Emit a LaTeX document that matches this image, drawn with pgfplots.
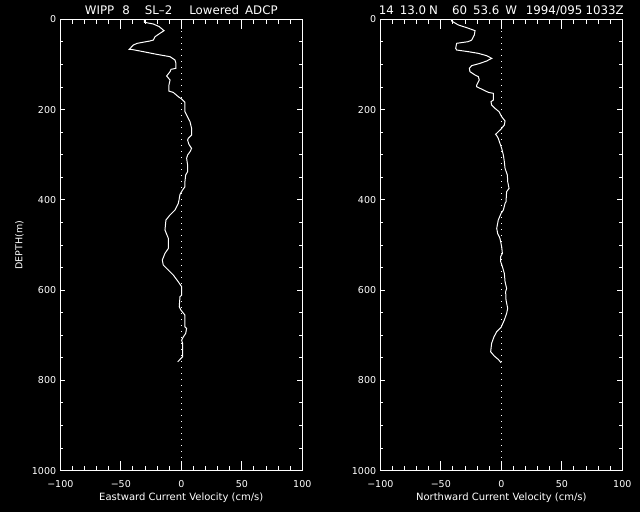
\documentclass[border=0pt]{standalone}
\usepackage{fontspec}
\setmainfont{DejaVu Sans}
\usepackage{pgfplots}
\pgfplotsset{compat=1.18}
\begin{document}
\begin{tikzpicture}[x=1pt,y=1pt]
\useasboundingbox (0,0) rectangle (640,512);
\fill[black] (0,0) rectangle (640,512);
\pgfplotsset{
  profaxis/.style={
    scale only axis, width=242pt, height=451.4pt,
    xmin=-100, xmax=100, ymin=0, ymax=1000, y dir=reverse,
    axis line style={white, line width=1pt},
    tick style={white, line width=1pt},
    xtick={-100,-50,0,50,100},
    xticklabels={−100,−50,0,50,100},
    ytick={0,200,400,600,800,1000},
    yticklabels={0,200,400,600,800,1000},
    minor x tick num=4, minor y tick num=3,
    tick align=inside,
    xtick pos=both, ytick pos=both,
    x tick style={/pgfplots/major tick length=10pt, /pgfplots/minor tick length=5pt},
    y tick style={/pgfplots/major tick length=5pt, /pgfplots/minor tick length=3pt},
    tick label style={text=white, font=\fontsize{9.5}{11}\selectfont},
    xticklabel style={anchor=base, yshift=-16.6pt},
    yticklabel style={anchor=east, inner xsep=4pt},
    xlabel style={text=white, font=\fontsize{10}{12}\selectfont, at={(axis description cs:0.5,0)}, anchor=base, yshift=-29.3pt},
    ylabel style={text=white, font=\fontsize{9.5}{11}\selectfont, at={(axis description cs:0,0.5)}, anchor=center, rotate=0, yshift=40.8pt},
    title style={text=white, font=\fontsize{11.8}{14}\selectfont, at={(axis description cs:0.5,1)}, anchor=base, yshift=-1.5pt},
    clip=false,
  }
}
\begin{axis}[profaxis, at={(60.3pt,41.3pt)}, anchor=south west,
  xlabel={Eastward Current Velocity (cm/s)}, ylabel={DEPTH(m)},
  title={WIPP\hspace{8pt}8\hspace{15pt}SL–2\hspace{17pt}Lowered\hspace{6pt}ADCP}]
\addplot[white, line width=0.9pt, dash pattern=on 1pt off 5pt] coordinates {(0,0) (0,1000)};
\addplot[white, line width=1pt, mark=none] coordinates {
(-30.6,0) (-30.6,6.6) (-23.1,10.4) (-18.2,16.3) (-14.3,25.2) (-17.6,31) (-21.7,38.5)
(-23.1,45.9) (-25.9,48) (-36.4,53.2) (-39.7,57) (-43,66.5) (-40.5,67) (-31.4,71.7)
(-20.3,77.6) (-9.3,82.8) (-5.2,90.2) (-4.4,97.6) (-4.4,108.6) (-8.5,110.8) (-9.3,116)
(-12.1,125.6) (-9.3,134.5) (-10.2,145.6) (-10.2,159) (-6.6,162) (-2.5,171.4) (0.3,176.6)
(3,184) (3,204.6) (4.4,212) (5.8,219.4) (7.2,226.7) (8.5,241.5) (8.5,256.3) (5.8,263.7)
(5.2,267.4) (6.3,277) (8.5,286) (7.2,293.3) (5.2,300.7) (4.4,308) (5.2,322.8) (5.2,337.6)
(3.6,345) (3,359.8) (3,371) (1.1,378) (-1.1,388) (-1.9,400.4) (-2.5,407.8) (-5.2,422.5)
(-9.4,433.6) (-12.7,444.7) (-13.5,466.8) (-10.7,485.3) (-10.7,507.5) (-13.5,518.5)
(-15.7,533.3) (-14.9,544.4) (-10.7,555.5) (-6.6,566.6) (-2.5,581.4) (0.3,592.4)
(0.3,610.9) (-1.1,614.6) (-1.7,636.9) (-0.3,644.2) (3,655.3) (3,681.2) (4.4,684.9)
(3.6,696) (1.7,703.4) (0.3,710.8) (1.1,718.2) (1.1,747.7) (-1.1,753.6) (-3,758.8)
};
\end{axis}
\begin{axis}[profaxis, at={(380.3pt,41.3pt)}, anchor=south west,
  xlabel={Northward Current Velocity (cm/s)},
  title={14\hspace{6pt}13.0\hspace{3pt}N\hspace{14pt}60\hspace{6pt}53.6\hspace{6pt}W\hspace{9pt}1994/095\hspace{3pt}1033Z}]
\addplot[white, line width=0.9pt, dash pattern=on 1pt off 5pt] coordinates {(0,0) (0,1000)};
\addplot[white, line width=1pt, mark=none] coordinates {
(-41,0) (-41,3.8) (-35.5,12.6) (-28.6,18.5) (-21.7,25.2) (-22.3,34.8) (-24.5,45.9)
(-27.3,49.5) (-36.9,53.2) (-37.7,64.2) (-36.9,68) (-27.3,71.7) (-19,75.4) (-12.1,80.6)
(-7.9,86.5) (-12.1,92.4) (-17.6,97.6) (-24.5,102.7) (-26.4,108.6) (-25.9,116)
(-21.7,123.4) (-19,127.1) (-18.2,134.5) (-20.3,145.6) (-20.4,149.3) (-10.7,161.8)
(-6.6,164) (-6.6,178.8) (-8.5,182.5) (-8,189.9) (-5.2,197.3) (-1.9,204.6) (0.3,215.7)
(3.1,225.3) (2.5,234.2) (-0.2,243) (-1.9,247.5) (-4.7,254.8) (-3.8,257.8) (-2.5,263.7)
(-1.1,274.8) (0.3,285.9) (1.7,300.7) (2.5,315.4) (3.1,330.2) (5,345) (5.3,359.7)
(6.4,374.5) (4.4,381.9) (3.9,404) (3.1,407.8) (1.7,422.5) (-0.2,429.9) (-2.5,444.7)
(-3.8,463.1) (-3,474.5) (-1.1,485.3) (0.3,503.8) (0.9,518.5) (-0.5,525.9) (-0.5,537)
(0.9,548) (2.5,562.9) (3.1,581.3) (4.4,596.1) (3.6,603.5) (3.9,621.9) (5.3,640.4)
(4.4,651.5) (2.5,666.2) (-0.2,682.4) (-3.8,692) (-6,703.1) (-8,717.9) (-8.8,736.4)
(-5.8,746) (-2.5,753.4) (-0.2,760.8)
};
\end{axis}
\end{tikzpicture}
\end{document}
